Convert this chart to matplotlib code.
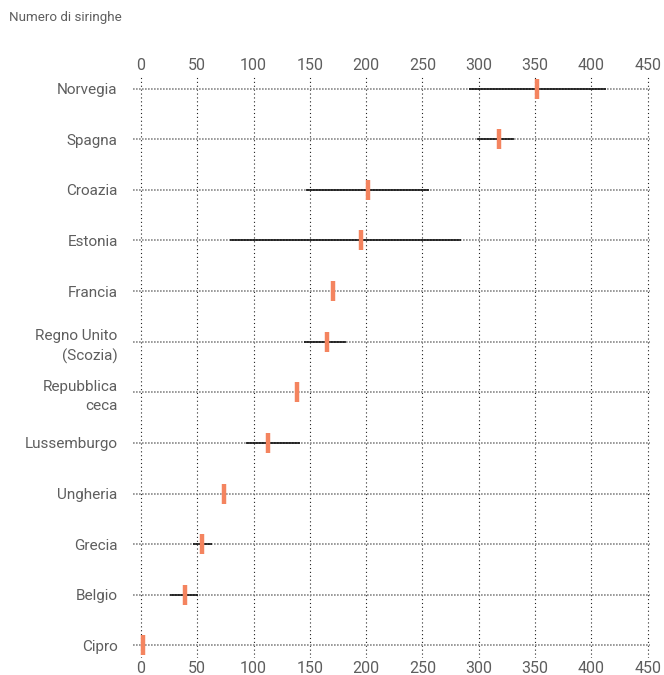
import matplotlib
matplotlib.use("Agg")
import matplotlib.pyplot as plt

# Syringes distributed per person who injects drugs: central estimate and range
countries = ["Norvegia", "Spagna", "Croazia", "Estonia", "Francia",
             "Regno Unito\n(Scozia)", "Repubblica\nceca", "Lussemburgo",
             "Ungheria", "Grecia", "Belgio", "Cipro"]
estimate = [352, 318, 202, 195, 171, 165, 139, 113, 74, 54, 39, 1.5]
low = [291, 298, 147, 79, None, 145, None, 93, None, 46, 26, None]
high = [413, 331, 256, 284, None, 182, None, 141, None, 63, 51, None]
xticks = [0, 50, 100, 150, 200, 250, 300, 350, 400, 450]

plt.rcParams["font.family"] = ["Roboto", "DejaVu Sans"]
text_grey = "#5e5e5e"
accent = "#f4845f"

fig = plt.figure(figsize=(6.64, 6.75), dpi=100)
ax = fig.add_axes([133 / 664, 1 - 658 / 675, (650 - 133) / 664, (658 - 76) / 675])

ypos = list(range(len(countries)))
ax.set_xlim(-7, 452)
ax.set_ylim(len(countries) - 0.75, -0.25)

# vertical dotted grid
for t in xticks:
    ax.axvline(t, color="#222222", lw=0.8, ls=(0, (1, 2.5)), zorder=1)
# horizontal dotted guide per country
for y in ypos:
    ax.axhline(y, color="#8a8a8a", lw=1.2, ls=(0, (1, 0.8)), zorder=1)

# ranges
for y, lo, hi in zip(ypos, low, high):
    if lo is not None:
        ax.plot([lo, hi], [y, y], color="black", lw=1.1, solid_capstyle="butt", zorder=2)

# central estimates as short vertical bars
ax.scatter(estimate, ypos, marker="|", s=210, linewidths=3.2, color=accent, zorder=3)

ax.set_yticks(ypos)
ax.set_yticklabels(countries, color=text_grey, fontsize=11, linespacing=1.5)
ax.set_xticks(xticks)
ax.set_xticklabels([str(t) for t in xticks], color=text_grey, fontsize=11.5)
ax.tick_params(axis="x", which="both", length=0, top=True, labeltop=True,
               bottom=True, labelbottom=True, pad=2)
ax.tick_params(axis="y", length=0, pad=11)
for s in ax.spines.values():
    s.set_visible(False)
ax.set_facecolor("none")

fig.text(9 / 664, 1 - 18 / 675, "Numero di siringhe", color=text_grey,
         fontsize=9.6, va="center", ha="left")

fig.savefig("out.png", dpi=100, facecolor="white")
